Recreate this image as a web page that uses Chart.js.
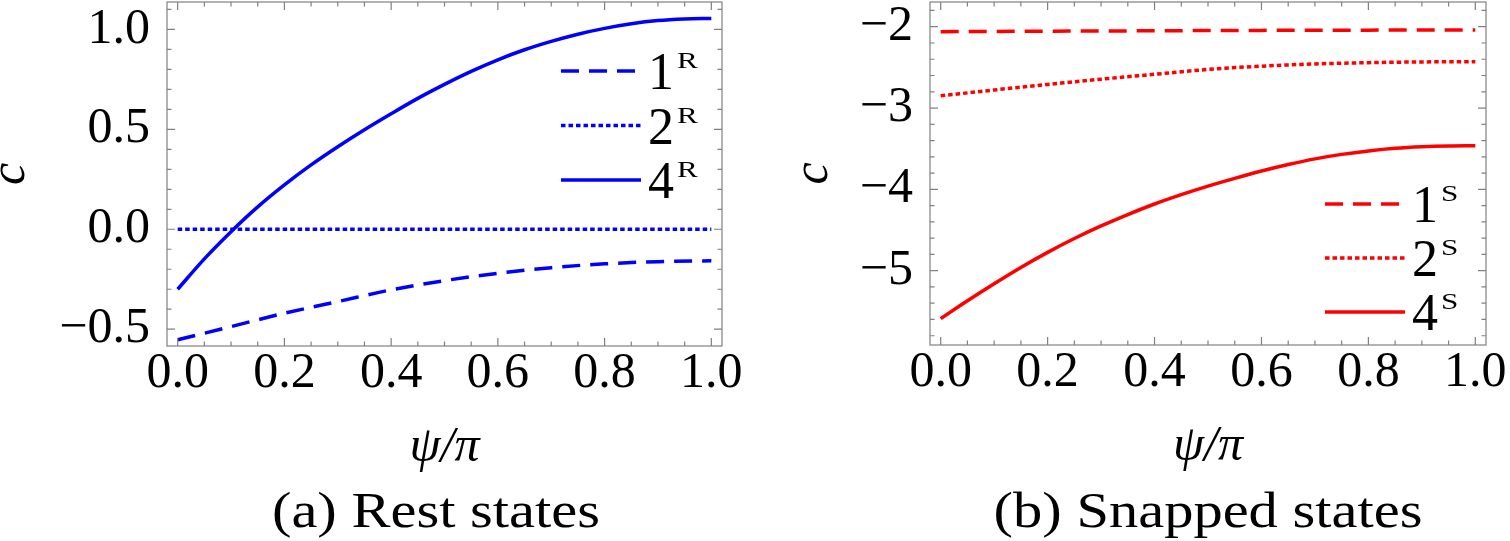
<!DOCTYPE html>
<html>
<head>
<meta charset="utf-8">
<script src="https://cdn.jsdelivr.net/npm/chart.js@4/dist/chart.umd.min.js"></script>
<style>
  html, body { margin: 0; padding: 0; background: #fff; }
  body { width: 1510px; height: 541px; position: relative; overflow: hidden; font-family: "Liberation Serif", serif; }
  .panel { position: absolute; top: 0; width: 755px; height: 541px; }
  .cap { position: absolute; top: 485px; font-size: 50px; line-height: 50px; white-space: nowrap;
         transform: translateX(-50%) scaleX(1.17); color: #000; }
</style>
</head>
<body>
<div class="panel" style="left:0"><canvas id="chartA" width="755" height="541"></canvas></div>
<div class="panel" style="left:755px"><canvas id="chartB" width="755" height="541"></canvas></div>
<div class="cap" style="left:436px">(a) Rest states</div>
<div class="cap" style="left:1208px">(b) Snapped states</div>
<script>
// psi/pi sample positions
const psiFine = [0, 0.05, 0.1, 0.15, 0.2, 0.25, 0.3, 0.35, 0.4, 0.45, 0.5,
                 0.55, 0.6, 0.65, 0.7, 0.75, 0.8, 0.85, 0.9, 0.95, 1.0];
const psiCoarse = [0, 0.1, 0.2, 0.3, 0.4, 0.5, 0.6, 0.7, 0.8, 0.9, 1.0];

// (a) rest states
const rest1 = [-0.553, -0.487, -0.42, -0.362, -0.303, -0.257, -0.22, -0.192, -0.173, -0.162, -0.158];
const rest2 = [0, 0, 0, 0, 0, 0, 0, 0, 0, 0, 0];
const rest4 = [-0.30, -0.148, -0.012, 0.112, 0.222, 0.322, 0.413, 0.498, 0.578, 0.655, 0.725,
               0.79, 0.848, 0.898, 0.94, 0.976, 1.005, 1.028, 1.044, 1.052, 1.055];

// (b) snapped states
const snap1 = [-2.061, -2.058, -2.055, -2.053, -2.05, -2.047, -2.045, -2.043, -2.042, -2.041, -2.04];
const snap2 = [-2.85, -2.778, -2.71, -2.645, -2.585, -2.525, -2.485, -2.458, -2.442, -2.433, -2.43];
const snap4 = [-5.59, -5.37, -5.16, -4.96, -4.775, -4.605, -4.45, -4.31, -4.18, -4.065, -3.96,
               -3.865, -3.775, -3.695, -3.625, -3.57, -3.527, -3.495, -3.476, -3.466, -3.463];

const names = ["1", "2", "4"];

// axes
const xTicks = [0, 0.2, 0.4, 0.6, 0.8, 1.0];
const xLabels = ["0.0", "0.2", "0.4", "0.6", "0.8", "1.0"];
const yTicksA = [-0.5, 0, 0.5, 1.0];
const yLabelsA = ["\u22120.5", "0.0", "0.5", "1.0"];
const yTicksB = [-5, -4, -3, -2];
const yLabelsB = ["\u22125", "\u22124", "\u22123", "\u22122"];

const FONT = '"Liberation Serif", serif';
const DASH = [18, 10];
const DOT = [4.5, 3];

function pts(xs, ys) {
  return ys.map((v, i) => ({ x: xs[i], y: v }));
}

function series(label, xs, ys, color, dash) {
  return {
    label,
    data: pts(xs, ys),
    borderColor: color,
    borderWidth: 3.5,
    borderDash: dash,
    borderCapStyle: "butt",
    pointRadius: 0,
    cubicInterpolationMode: "monotone",
    fill: false,
  };
}

// frame with inward ticks on all sides + legend with superscripts
const framePlugin = {
  id: "frameTicks",
  afterDraw(chart, args, opts) {
    const { ctx, chartArea: a, scales: { x, y } } = chart;
    ctx.save();
    ctx.strokeStyle = "#808080";
    ctx.lineWidth = 1.2;
    ctx.setLineDash([]);
    ctx.strokeRect(a.left, a.top, a.right - a.left, a.bottom - a.top);

    const near = (arr, v) => arr.some(t => Math.abs(t - v) < 1e-6);
    const xs = Math.ceil(x.min / opts.xMinor), xe = Math.floor(x.max / opts.xMinor);
    for (let k = xs; k <= xe; k++) {
      const v = k * opts.xMinor;
      const px = x.getPixelForValue(v);
      const len = near(opts.xMajor, v) ? 8 : 4.5;
      ctx.beginPath();
      ctx.moveTo(px, a.bottom); ctx.lineTo(px, a.bottom - len);
      ctx.moveTo(px, a.top); ctx.lineTo(px, a.top + len);
      ctx.stroke();
    }
    const ys = Math.ceil(y.min / opts.yMinor - 1e-6), ye = Math.floor(y.max / opts.yMinor + 1e-6);
    for (let k = ys; k <= ye; k++) {
      const v = k * opts.yMinor;
      const py = y.getPixelForValue(v);
      if (py < a.top || py > a.bottom) continue;
      const len = near(opts.yMajor, v) ? 8 : 4.5;
      ctx.beginPath();
      ctx.moveTo(a.left, py); ctx.lineTo(a.left + len, py);
      ctx.moveTo(a.right, py); ctx.lineTo(a.right - len, py);
      ctx.stroke();
    }

    // legend
    const x0 = a.right - 161;
    chart.data.datasets.forEach((ds, i) => {
      const yy = opts.legendTop + i * opts.legendGap;
      ctx.strokeStyle = ds.borderColor;
      ctx.lineWidth = ds.borderWidth;
      ctx.lineCap = "butt";
      ctx.setLineDash(ds.borderDash || []);
      ctx.beginPath();
      ctx.moveTo(x0, yy); ctx.lineTo(x0 + 80, yy);
      ctx.stroke();
      ctx.setLineDash([]);
      ctx.fillStyle = "#000";
      ctx.textBaseline = "alphabetic";
      ctx.textAlign = "left";
      ctx.font = "52px " + FONT;
      ctx.fillText(ds.label, x0 + 87, yy + 18);
      const w = ctx.measureText(ds.label).width;
      ctx.save();
      ctx.translate(x0 + 87 + w + 3, yy - 3);
      ctx.scale(1.3, 1);
      ctx.font = "24px " + FONT;
      ctx.fillText(opts.sup, 0, 0);
      ctx.restore();
    });
    ctx.restore();
  }
};

function makeChart(id, datasets, cfg) {
  return new Chart(document.getElementById(id), {
    type: "line",
    data: { datasets },
    plugins: [framePlugin],
    options: {
      responsive: false,
      animation: false,
      layout: { padding: { left: 0, right: cfg.padRight, top: 2, bottom: cfg.padBottom } },
      plugins: {
        legend: { display: false },
        tooltip: { enabled: false },
        frameTicks: {
          xMinor: 0.05, xMajor: xTicks,
          yMinor: cfg.yMinor, yMajor: cfg.yTicks,
          legendTop: cfg.legendTop, legendGap: cfg.legendGap, sup: cfg.sup,
        },
      },
      scales: {
        x: {
          type: "linear",
          min: -0.02, max: 1.02,
          afterBuildTicks: s => { s.ticks = xTicks.map(v => ({ value: v })); },
          afterFit: s => { s.height = 130; s.paddingLeft = 0; s.paddingRight = 0; },
          grid: { display: false },
          border: { display: false },
          ticks: {
            padding: -5, maxRotation: 0, minRotation: 0, autoSkip: false, color: "#000",
            font: { family: FONT, size: 50, lineHeight: 1 },
            callback: (v, i) => xLabels[i],
          },
          title: {
            display: true, text: "\u03C8/\u03C0", color: "#000",
            font: { family: FONT, size: 50, style: "italic", lineHeight: 1 },
            padding: { top: 0, bottom: 3 },
          },
        },
        y: {
          type: "linear",
          min: cfg.yMin, max: cfg.yMax,
          afterBuildTicks: s => { s.ticks = cfg.yTicks.map(v => ({ value: v })); },
          afterFit: s => { s.width = cfg.axisWidth; s.paddingTop = 0; s.paddingBottom = 0; },
          grid: { display: false },
          border: { display: false },
          ticks: {
            padding: 9, autoSkip: false, color: "#000",
            font: { family: FONT, size: 50, lineHeight: 1 },
            callback: (v, i) => cfg.yLabels[i],
          },
          title: {
            display: true, text: "c", color: "#000",
            font: { family: FONT, size: 50, style: "italic", lineHeight: 1 },
            padding: { top: cfg.titlePad, bottom: 0 },
          },
        },
      },
    },
  });
}

const BLUE = "#0000ff";
const RED = "#ff0000";

makeChart("chartA", [
  series(names[0], psiCoarse, rest1, BLUE, DASH),
  series(names[1], psiCoarse, rest2, BLUE, DOT),
  series(names[2], psiFine, rest4, BLUE, []),
], {
  yMin: -0.584, yMax: 1.137, yTicks: yTicksA, yLabels: yLabelsA, yMinor: 0.1,
  axisWidth: 167, padRight: 33, padBottom: 65, titlePad: -14,
  legendTop: 71, legendGap: 54.5, sup: "R",
});

makeChart("chartB", [
  series(names[0], psiCoarse, snap1, RED, DASH),
  series(names[1], psiCoarse, snap2, RED, DOT),
  series(names[2], psiFine, snap4, RED, []),
], {
  yMin: -5.914, yMax: -1.696, yTicks: yTicksB, yLabels: yLabelsB, yMinor: 0.2,
  axisWidth: 175, padRight: 24, padBottom: 66, titlePad: 34,
  legendTop: 204, legendGap: 54, sup: "S",
});
</script>
</body>
</html>
